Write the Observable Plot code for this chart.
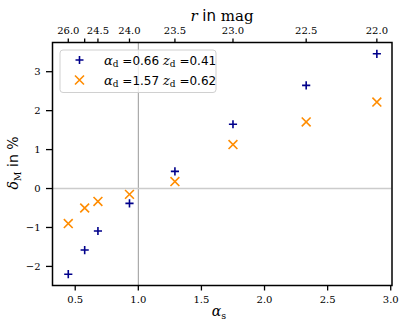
<!DOCTYPE html>
<html><head><meta charset="utf-8">
<script src="https://cdn.jsdelivr.net/npm/d3@7"></script>
<script src="https://cdn.jsdelivr.net/npm/@observablehq/plot@0.6"></script>
<style>body{margin:0;background:#fff}</style>
</head><body><div id="chart"></div>
<script>
const alphaS = [0.445, 0.575, 0.68, 0.93, 1.29, 1.75, 2.33, 2.89];
const deltaBlue = [-2.2, -1.58, -1.09, -0.38, 0.44, 1.65, 2.65, 3.46];
const deltaOrange = [-0.9, -0.5, -0.33, -0.15, 0.18, 1.13, 1.71, 2.22];
const rLabels = ["26.0", "", "24.5", "24.0", "23.5", "23.0", "22.5", "22.0"];
const xTicks = [0.5, 1.0, 1.5, 2.0, 2.5, 3.0];
const yTicks = [-2, -1, 0, 1, 2, 3];
const series = [
  {name: "blue", alphaD: "0.66", zD: "0.41"},
  {name: "orange", alphaD: "1.57", zD: "0.62"}
];

const blue = "#00008b", orange = "#ff8c00";
const rMap = new Map(alphaS.map((a, i) => [a, rLabels[i]]));
const blueData = alphaS.map((a, i) => ({x: a, y: deltaBlue[i]}));
const orangeData = alphaS.map((a, i) => ({x: a, y: deltaOrange[i]}));
const serif = "DejaVu Serif";

const chart = Plot.plot({
  width: 407, height: 333,
  marginLeft: 52, marginRight: 15.5, marginTop: 42, marginBottom: 48,
  style: {fontFamily: serif, fontSize: "10px", background: "#fff", color: "#000"},
  x: {domain: [0.32, 3.01]},
  y: {domain: [-2.49, 3.75]},
  marks: [
    Plot.ruleX([1.0], {stroke: "#999", strokeWidth: 1}),
    Plot.ruleY([0], {stroke: "#ccc", strokeWidth: 1.6}),
    Plot.axisX({anchor: "bottom", ticks: xTicks, tickFormat: d3.format(".1f"), tickSize: 5.5, tickPadding: 5, label: null, strokeWidth: 1.3}),
    Plot.axisX(alphaS, {anchor: "top", tickFormat: d => rMap.get(d), tickSize: 4.5, tickPadding: 4, label: null, strokeWidth: 1.3}),
    Plot.axisY({ticks: yTicks, tickFormat: d => (d < 0 ? "\u2212" + (-d) : String(d)), tickSize: 6, tickPadding: 6, label: null, strokeWidth: 1.3}),
    Plot.dot(blueData, {x: "x", y: "y", symbol: "plus", r: 2.75, stroke: blue, strokeWidth: 1.6}),
    Plot.dot(orangeData, {x: "x", y: "y", symbol: "times", r: 4.1, stroke: orange, strokeWidth: 1.6}),
    Plot.frame({stroke: "#000", strokeWidth: 1.5})
  ]
});
document.getElementById("chart").appendChild(chart);

const svg = d3.select(chart);
// title (top axis label)
const t = svg.append("text").attr("x", 222).attr("y", 21).attr("text-anchor", "middle").attr("font-size", 15).attr("fill", "#000");
t.append("tspan").attr("font-family", serif).attr("font-style", "italic").text("r");
t.append("tspan").attr("font-family", "DejaVu Sans").text(" in ");
t.append("tspan").attr("font-family", serif).text("mag");

// x label
const xl = svg.append("text").attr("x", 219).attr("y", 316).attr("text-anchor", "middle").attr("font-size", 14).attr("font-family", serif).attr("fill", "#000");
xl.append("tspan").attr("font-style", "italic").text("α");
xl.append("tspan").attr("font-size", 9.5).attr("dy", 3).text("s");

// y label
const yl = svg.append("text").attr("transform", "translate(18,163) rotate(-90)").attr("text-anchor", "middle").attr("font-size", 14).attr("fill", "#000");
yl.append("tspan").attr("font-family", serif).attr("font-style", "italic").text("δ");
yl.append("tspan").attr("font-family", serif).attr("font-size", 9.5).attr("dy", 3).text("M");
yl.append("tspan").attr("font-family", "DejaVu Sans").attr("dy", -3).text(" in ");
yl.append("tspan").attr("font-family", serif).text("%");

// legend
const lg = svg.append("g");
lg.append("rect").attr("x", 60).attr("y", 50).attr("width", 156).attr("height", 42.5).attr("rx", 3)
  .attr("fill", "#fff").attr("fill-opacity", 0.8).attr("stroke", "#d0d0d0").attr("stroke-width", 1);
const rowY = [60, 80];
lg.append("path").attr("d", `M75.5,${rowY[0]}h8M79.5,${rowY[0]-4}v8`).attr("stroke", blue).attr("stroke-width", 1.6);
lg.append("path").attr("d", `M75,${rowY[1]-4.5}l9,9M84,${rowY[1]-4.5}l-9,9`).attr("stroke", orange).attr("stroke-width", 1.6);
series.forEach((s, i) => {
  const tx = lg.append("text").attr("x", 104).attr("y", rowY[i] + 4.5).attr("text-anchor", "start").attr("font-size", 12).attr("fill", "#000");
  tx.append("tspan").attr("font-family", serif).attr("font-style", "italic").attr("font-size", 13).text("α");
  tx.append("tspan").attr("font-family", serif).attr("font-size", 9).attr("dy", 2.5).text("d");
  tx.append("tspan").attr("font-family", "DejaVu Sans").attr("dy", -2.5).text(" =" + s.alphaD + " ");
  tx.append("tspan").attr("font-family", serif).attr("font-style", "italic").attr("font-size", 13).text("z");
  tx.append("tspan").attr("font-family", serif).attr("font-size", 9).attr("dy", 2.5).text("d");
  tx.append("tspan").attr("font-family", "DejaVu Sans").attr("dy", -2.5).text(" =" + s.zD);
});
</script></body></html>
